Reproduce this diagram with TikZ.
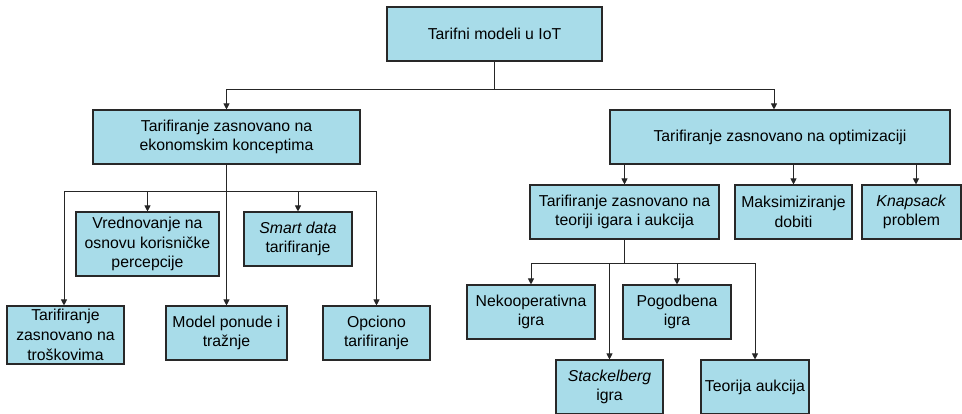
\documentclass[tikz,border=0pt]{standalone}
\usepackage{fontspec}
\setmainfont{Liberation Sans}
\usetikzlibrary{arrows.meta,calc}
\definecolor{boxblue}{RGB}{168,220,233}
\definecolor{edgegray}{RGB}{40,40,40}
\begin{document}
\begin{tikzpicture}[x=1pt,y=-1pt,
  box/.style={draw=edgegray,fill=boxblue,line width=1.1pt,align=center,inner sep=0pt,
    font=\fontsize{15.8}{19.8}\selectfont,text=black},
  arrow/.style={draw=black!85,line width=0.9pt,-{Triangle[length=6pt,width=6pt]}},
  link/.style={draw=black!85,line width=0.9pt}]
\useasboundingbox (0,0) rectangle (962,413);
\clip (0,0) rectangle (962,413);
% nodes
\node[box,minimum width=215,minimum height=54] (root) at (494.5,34) {Tarifni modeli u IoT};
\node[box,minimum width=267,minimum height=54] (L1) at (226.5,137) {Tarifiranje zasnovano na\\ekonomskim konceptima};
\node[box,minimum width=340,minimum height=54] (R1) at (780,137) {Tarifiranje zasnovano na optimizaciji};
\node[box,minimum width=143,minimum height=64] (V) at (147.5,244) {Vrednovanje na\\osnovu korisničke\\percepcije};
\node[box,minimum width=108,minimum height=54] (S) at (298,239) {\textit{Smart data}\\tarifiranje};
\node[box,minimum width=117,minimum height=58] (T) at (65.5,335) {Tarifiranje\\zasnovano na\\troškovima};
\node[box,minimum width=121,minimum height=54] (M) at (226.5,333) {Model ponude i\\tražnje};
\node[box,minimum width=107,minimum height=54] (O) at (376.5,333) {Opciono\\tarifiranje};
\node[box,minimum width=189,minimum height=54] (G) at (624.5,212) {Tarifiranje zasnovano na\\teoriji igara i aukcija};
\node[box,minimum width=117,minimum height=54] (MD) at (793.5,212) {Maksimiziranje\\dobiti};
\node[box,minimum width=99,minimum height=54] (K) at (911.5,212) {\textit{Knapsack}\\problem};
\node[box,minimum width=128,minimum height=54] (N) at (531,312) {Nekooperativna\\igra};
\node[box,minimum width=108,minimum height=54] (P) at (677,312) {Pogodbena\\igra};
\node[box,minimum width=107,minimum height=54] (St) at (609.5,387) {\textit{Stackelberg}\\igra};
\node[box,minimum width=108,minimum height=54] (TA) at (755,387) {Teorija aukcija};
% root connectors
\coordinate (rj) at ($(root.south)+(0,28)$);
\draw[link] (root.south) -- (rj);
\draw[arrow] (rj) -| (L1.north);
\draw[arrow] (rj) -| ([xshift=-6]R1.north);
% L1 connectors
\coordinate (lj) at ($(L1.south)+(0,27)$);
\draw[arrow] (L1.south) -- (M.north);
\draw[arrow] (lj) -| ([xshift=-1.5]T.north);
\draw[arrow] (lj) -| (V.north);
\draw[arrow] (lj) -| (S.north);
\draw[arrow] (lj) -| (O.north);
% R1 connectors
\draw[arrow] (R1.south -| G.north) -- (G.north);
\draw[arrow] (R1.south -| MD.north) -- (MD.north);
\draw[arrow] ([xshift=4.5]K.north |- R1.south) -- ([xshift=4.5]K.north);
% G connectors
\coordinate (gj) at ($(G.south)+(0,24)$);
\draw[link] (G.south) -- (gj);
\draw[arrow] (gj) -| (N.north);
\draw[arrow] (gj) -| (St.north);
\draw[arrow] (gj) -| (P.north);
\draw[arrow] (gj) -| (TA.north);
\end{tikzpicture}
\end{document}
